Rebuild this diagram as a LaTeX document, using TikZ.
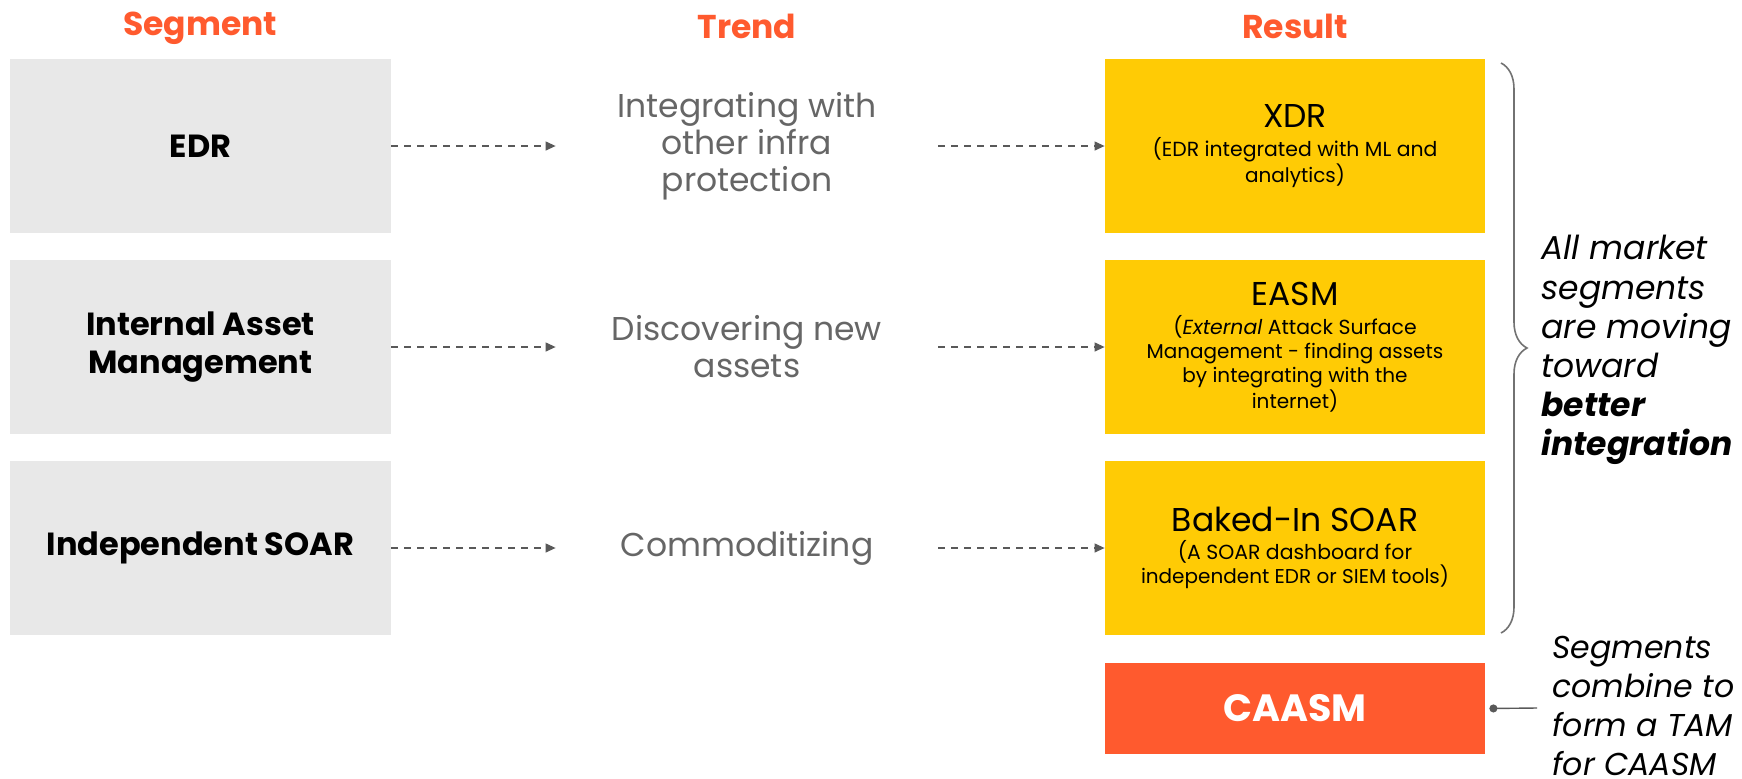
\documentclass[tikz,border=0pt]{standalone}
\usepackage{fontspec}
\setmainfont{Poppins}
\usetikzlibrary{arrows.meta,decorations.pathreplacing}

\definecolor{headorange}{HTML}{FF5A2E}
\definecolor{segfill}{HTML}{E8E8E8}
\definecolor{resfill}{HTML}{FFCB05}
\definecolor{trendgray}{HTML}{666666}
\definecolor{arrowgray}{HTML}{595959}

\newcommand{\restitle}{\fontsize{16.5}{20}\selectfont}
\newcommand{\ressub}{\fontsize{10.2}{12.4}\selectfont}

\tikzset{
  header/.style={font=\bfseries\fontsize{16.5}{20}\selectfont, text=headorange},
  segbox/.style={fill=segfill, minimum width=190.5pt, minimum height=87pt,
    inner sep=0pt, align=center, font=\bfseries\fontsize{16}{19}\selectfont},
  resbox/.style={fill=resfill, minimum width=190pt, minimum height=87pt,
    inner sep=0pt, align=center},
  trendtext/.style={minimum width=191pt, inner sep=0pt, align=center,
    text=trendgray, font=\fontsize{16.5}{18.5}\selectfont},
  flow/.style={arrowgray, line width=0.6pt, dash pattern=on 3.5pt off 3pt,
    -{Triangle[length=5pt,width=4.5pt]}},
  note/.style={align=left, font=\itshape\fontsize{16.5}{19.6}\selectfont, inner sep=0pt}
}

\begin{document}
\begin{tikzpicture}[x=0.5pt,y=-0.5pt]
    \useasboundingbox (0,0) rectangle (1742,778);

    % column headers
    \node[header] (hseg) at (200,28) {Segment};
    \node[header] (htrend) at (747,26) {Trend};
    \node[header] (hres) at (1295,26) {Result};

    % segments
    \node[segbox] (edr) at (200.5,146) {EDR};
    \node[segbox] (iam) at (200.5,347) {Internal Asset\\Management};
    \node[segbox] (soar) at (200.5,548) {Independent SOAR};

    % trends
    \node[trendtext] (t1) at (747,146) {Integrating with\\other infra\\protection};
    \node[trendtext] (t2) at (747,347) {Discovering new\\assets};
    \node[trendtext] (t3) at (747,548) {Commoditizing};

    % results
    \node[resbox] (xdr) at (1295,146) {\restitle XDR\\[2.5pt]\ressub (EDR integrated with ML and\\analytics)};
    \node[resbox] (easm) at (1295,347) {\restitle EASM\\[2.5pt]\ressub (\textit{External} Attack Surface\\Management - finding assets\\by integrating with the\\internet)};
    \node[resbox] (bsoar) at (1295,548) {\restitle Baked-In SOAR\\[2pt]\ressub (A SOAR dashboard for\\independent EDR or SIEM tools)};
    \node[resbox, fill=headorange, minimum height=45.5pt, text=white,
      font=\bfseries\fontsize{19}{22}\selectfont] (caasm) at (1295,708.5) {CAASM};

    % dashed flows
    \draw[flow] (edr.east) -- (t1.west);
    \draw[flow] (iam.east) -- (t2.west);
    \draw[flow] (soar.east) -- (t3.west);
    \draw[flow] (t1.east) -- (xdr.west);
    \draw[flow] (t2.east) -- (easm.west);
    \draw[flow] (t3.east) -- (bsoar.west);

    % brace and notes
    \draw[arrowgray!85, line width=0.8pt, decorate,
      decoration={brace, amplitude=13pt, raise=0pt}] (1501,63) -- (1501,633);
    \node[note, anchor=north west] (allnote) at (1541,235)
      {All market\\segments\\are moving\\toward\\\textbf{better}\\\textbf{integration}};
    \node[note, anchor=north west, font=\itshape\fontsize{15.8}{19.4}\selectfont] (tamnote) at (1552,636)
      {Segments\\combine to\\form a TAM\\for CAASM};
    \coordinate (tamend) at (1537,708);
    \draw[arrowgray, line width=0.7pt, {Circle[length=4pt]}-] ([xshift=2pt]caasm.east) -- (tamend);
\end{tikzpicture}
\end{document}
